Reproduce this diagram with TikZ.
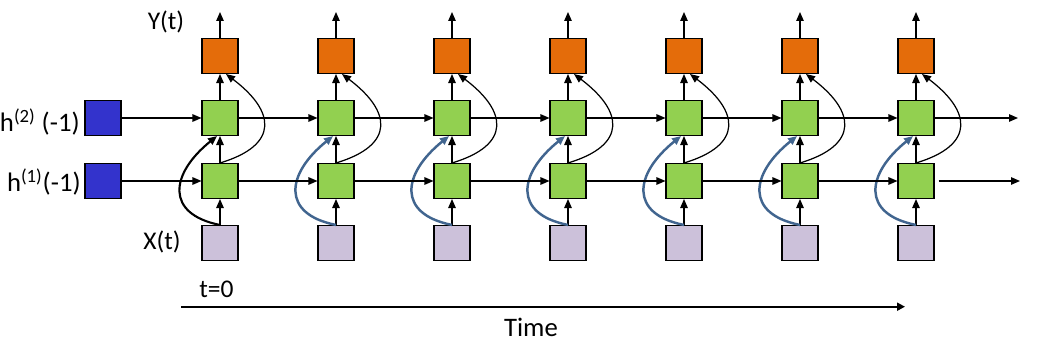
\documentclass[tikz,border=0pt]{standalone}
\usepackage{fontspec}
\setmainfont{Carlito}
\usetikzlibrary{arrows.meta}

\begin{document}
\begin{tikzpicture}[x=0.02cm,y=-0.02cm,
    box/.style={draw=black, line width=0.6pt, minimum width=0.72cm, minimum height=0.70cm, inner sep=0pt},
    link/.style={line width=0.7pt, -{Triangle[length=1.8mm,width=1.5mm]}},
    lbl/.style={inner sep=0pt, font=\fontsize{14.5}{16}\selectfont},
    biglbl/.style={inner sep=0pt, font=\fontsize{15.2}{17}\selectfont}]
    % Define colours
    \definecolor{outColour}{HTML}{E46C0A}
    \definecolor{hidColour}{HTML}{92D050}
    \definecolor{inColour}{HTML}{CCC1DA}
    \definecolor{initColour}{HTML}{3333CC}
    \definecolor{curveColour}{HTML}{41658F}

    \useasboundingbox (0,0) rectangle (1045,354);

    % Initial hidden states
    \node[box, fill=initColour] (init2) at (103,118) {};
    \node[box, fill=initColour] (init1) at (103,181) {};
    \node[biglbl, anchor=base east] (lblInit2) at (80,132) {h\textsuperscript{(2)} (-1)};
    \node[biglbl, anchor=base east] (lblInit1) at (81,192) {h\textsuperscript{(1)}(-1)};

    % Unrolled columns
    \foreach \i [evaluate=\i as \cx using 220+116*\i] in {0,...,6} {
        \node[box, fill=outColour] (out\i) at (\cx,56) {};
        \node[box, fill=hidColour] (hb\i) at (\cx,118) {};
        \node[box, fill=hidColour] (ha\i) at (\cx,181) {};
        \node[box, fill=inColour] (in\i) at (\cx,243) {};
        \coordinate (top\i) at (\cx,12);

        \draw[link] (in\i) -- (ha\i);
        \draw[link] (ha\i) -- (hb\i);
        \draw[link] (hb\i) -- (out\i);
        \draw[link] (out\i) -- (top\i);

        % Skip connection to output
        \draw[link] (ha\i.north) .. controls +(60,-18) and +(49,37) .. ([xshift=0.12cm]out\i.south);
    }

    % Skip connections from input
    \draw[link, line width=1.2pt] (in0.north) .. controls +(-55,-11) and +(-47,38) .. ([xshift=-0.06cm]hb0.south);
    \foreach \i in {1,...,6}
        \draw[link, line width=1.4pt, draw=curveColour] (in\i.north) .. controls +(-55,-11) and +(-47,38) .. ([xshift=-0.06cm]hb\i.south);

    % Recurrent connections
    \draw[link] (init2) -- (hb0);
    \draw[link] (init1) -- (ha0);
    \foreach \i [evaluate=\i as \j using int(\i+1)] in {0,...,5} {
        \draw[link] (hb\i) -- (hb\j);
        \draw[link] (ha\i) -- (ha\j);
    }
    \coordinate (endB) at (1018,118);
    \coordinate (endA) at (1020,181);
    \draw[link] (hb6) -- (endB);
    \draw[link] ([xshift=0.08cm]ha6.east) -- (endA);

    % Labels
    \node[lbl, anchor=base] (lblY) at (166,29.5) {Y(t)};
    \node[lbl, anchor=base] (lblX) at (162,250) {X(t)};

    % Time axis
    \coordinate (tStart) at (181,306.7);
    \coordinate (tEnd) at (905,306.7);
    \draw[line width=1.2pt, -{Triangle[length=1.6mm,width=1.6mm]}] (tStart) -- (tEnd);
    \node[lbl, anchor=base] (lblT0) at (216.5,298) {t=0};
    \node[biglbl, anchor=base] (lblTime) at (531,336.7) {Time};

\end{tikzpicture}
\end{document}
